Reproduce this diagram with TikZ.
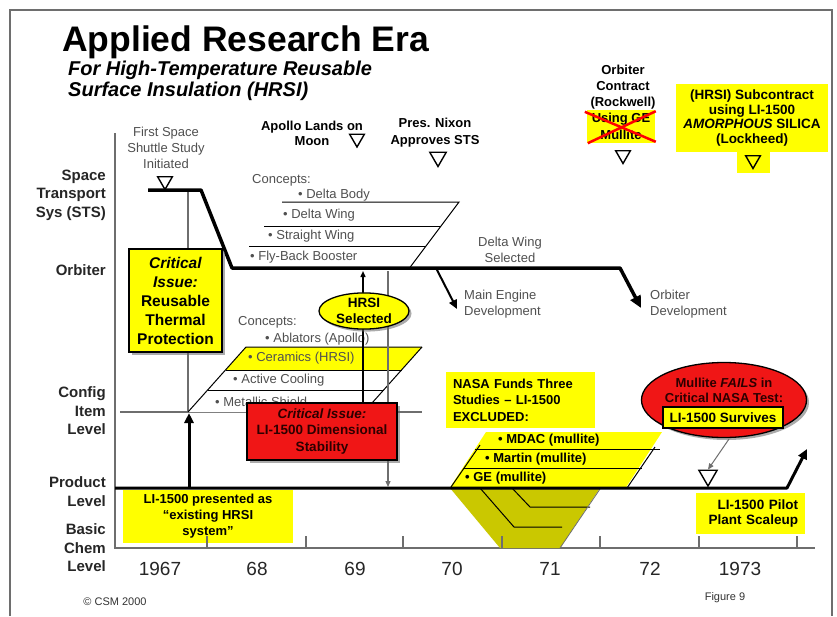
\documentclass[tikz,border=0pt]{standalone}
\usepackage{fontspec}
\setmainfont{Liberation Sans}
\usetikzlibrary{shapes.geometric,arrows.meta,shadows}
\definecolor{yel}{RGB}{255,255,0}
\definecolor{redc}{RGB}{240,22,22}
\definecolor{olv}{RGB}{202,200,0}
\definecolor{gtext}{RGB}{80,80,80}
\definecolor{gline}{RGB}{110,110,110}
\definecolor{rtext}{RGB}{45,0,0}
\newcommand\myfs[2]{\fontsize{#1}{#2}\selectfont}
\tikzset{
  bt/.style={font=\myfs{13}{15.5}\bfseries, align=center, inner sep=0pt},
  gt/.style={font=\myfs{13}{16}, text=gtext, inner sep=0pt},
  gtw/.style={gt, anchor=west},
  bk/.style={font=\myfs{13}{16}\bfseries, inner sep=0pt, anchor=west},
  ax/.style={font=\myfs{15}{18.5}\bfseries, align=right, anchor=east, inner sep=0pt, text=black!85},
  yr/.style={font=\myfs{19}{19}, inner sep=0pt, text=black!85},
  dtri/.style={regular polygon, regular polygon sides=3, shape border rotate=180, draw, line width=1.4pt, minimum size=17pt, inner sep=0pt},
  ybox/.style={fill=yel, inner sep=0pt, font=\myfs{13}{16}\bfseries, align=center},
  shad/.style={drop shadow={shadow xshift=2.5pt, shadow yshift=-2.5pt, opacity=0.55, fill=black!60}},
  gl/.style={draw=gline, line width=1.2pt},
  thinln/.style={line width=1pt},
}
\begin{document}
\begin{tikzpicture}[x=1pt,y=-1pt]
\useasboundingbox (0,0) rectangle (837,616);
\fill[white] (0,0) rectangle (837,616);
% frame
\draw[gline, line width=1.2pt] (10,616) -- (10,10) -- (832,10) -- (832,616);
% title
\node[anchor=base west, inner sep=0pt, font=\myfs{35.5}{35.5}\bfseries] (title) at (62,51.5) {Applied Research Era};
\node[anchor=base west, inner sep=0pt, font=\myfs{20}{20}\bfseries\itshape] (sub1) at (68,75.5) {For High-Temperature Reusable};
\node[anchor=base west, inner sep=0pt, font=\myfs{20}{20}\bfseries\itshape] (sub2) at (68,96) {Surface Insulation (HRSI)};
% axis labels
\node[ax] (lsts) at (106,195) {Space\\Transport\\Sys (STS)};
\node[ax] (lorb) at (106,270) {Orbiter};
\node[ax] (lcfg) at (106,411) {Config\\Item\\Level};
\node[ax] (lprod) at (106,491.5) {Product\\Level};
\node[ax] (lchem) at (106,548) {Basic\\Chem\\Level};
% axes
\coordinate (ax0) at (115,133); \coordinate (ax1) at (115,548); \coordinate (ax2) at (815,548);
\draw[gl] (ax0) -- (ax1) -- (ax2);
\foreach \x/\t in {160/1967, 257/68, 355/69, 452/70, 550/71, 650/72, 740/1973}
  \node[yr] (yr\t) at (\x,569) {\t};
% gray verticals & config line
\coordinate (g1a) at (188,190); \coordinate (g1b) at (188,412);
\draw[gl] (g1a) -- (g1b);
\coordinate (c0) at (120,412); \coordinate (c1) at (422,412);
\draw[gl] (c0) -- (c1);
% top labels
\node[gt, align=center] (first) at (166,148) {First Space\\Shuttle Study\\Initiated};
\node[dtri] (t1) at (165,181) {};
\node[bt] (apollo) at (312,133.5) {Apollo Lands on\\Moon};
\node[dtri] (t2) at (357,138.5) {};
\node[bt, font=\myfs{13}{17}\bfseries] (nixon) at (435,132.5) {Pres. Nixon\\Approves STS};
\node[dtri, minimum size=19pt] (t3) at (438,157) {};
\node[bt, font=\myfs{13}{16}\bfseries] (orbc) at (623,87) {Orbiter\\Contract\\(Rockwell)};
\node[ybox, minimum width=68pt, minimum height=33pt, font=\myfs{13}{17}\bfseries] (usege) at (621,126.5) {Using GE\\Mullite};
\draw[red, line width=2.5pt] (usege.north west) ++(-2,2) -- ++(71,30);
\draw[red, line width=2.5pt] (usege.south west) ++(1,0) -- ++(68,-32);
\node[dtri] (t4) at (623,155) {};
\node[ybox, minimum width=152pt, minimum height=68pt, font=\myfs{13.5}{14.5}\bfseries] (sub) at (752,118) {(HRSI) Subcontract\\using LI-1500\\\textit{AMORPHOUS} SILICA\\(Lockheed)};
\node[fill=yel, minimum width=33pt, minimum height=23pt, inner sep=0pt] (subt) at (753.5,161.5) {};
\node[dtri] (t5) at (753,160) {};
% orbiter level labels
\node[gt, align=center] (dws) at (510,249.5) {Delta Wing\\Selected};
\node[gtw, align=left] (med) at (464,304) {Main Engine\\Development};
\node[gtw, align=left] (odev) at (650,304) {Orbiter\\Development};
% upper concepts
\draw[thinln, fill=white] (282,202) -- (459,202) -- (409.5,268) -- (232.5,268);
\draw[thinln] (264,226) -- (441,226) (249,246) -- (426,246);
\node[gtw] (ucon) at (252,180) {Concepts:};
\node[gtw] (udb) at (298,195) {• Delta Body};
\node[gtw] (udw) at (283,215) {• Delta Wing};
\node[gtw] (usw) at (268,236) {• Straight Wing};
\node[gtw] (ufb) at (250,257) {• Fly-Back Booster};
% timeline
\coordinate (s0) at (148,190); \coordinate (s1) at (201,190); \coordinate (s2) at (232,268);
\coordinate (o1) at (620,268); \coordinate (o2) at (641,308);
\coordinate (me0) at (436,268); \coordinate (me1) at (457,309);
\draw[line width=3.5pt, line join=round, -{Triangle[length=12pt,width=11pt]}] (s0) -- (s1) -- (s2) -- (o1) -- (o2);
\draw[line width=2pt, -{Triangle[length=9pt,width=8pt]}] (me0) -- (me1);
% critical issue box
\node[draw, line width=1.3pt, fill=yel, shad, minimum width=93pt, minimum height=103pt, inner sep=0pt, align=center, font=\myfs{15.5}{19}\bfseries] (crit1) at (175.5,300.5) {\textit{Critical}\\\textit{Issue:}\\Reusable\\Thermal\\Protection};
% lower concepts
\fill[white] (246,347) -- (422,347) -- (364,412) -- (188,412) -- cycle;
\fill[yel] (246,347) -- (422,347) -- (401.5,370) -- (225.5,370) -- cycle;
\draw[thinln] (422,347) -- (246,347) -- (188,412);
\draw[thinln] (422,347) -- (364,412);
\draw[thinln] (225.5,370) -- (401.5,370) (207.7,390) -- (383.7,390);
\node[gtw] (lcon) at (238,322) {Concepts:};
\node[gtw] (lab) at (265,339) {• Ablators (Apollo)};
\node[gtw] (lcer) at (248,358) {• Ceramics (HRSI)};
\node[gtw] (lac) at (233,380) {• Active Cooling};
\node[gtw] (lms) at (215,402) {• Metallic Shield};
% verticals
\coordinate (v1a) at (363,403); \coordinate (v1b) at (363,271);
\draw[line width=1.4pt, -{Triangle[length=6pt,width=5pt]}] (v1a) -- (v1b);
\coordinate (v2a) at (388,271); \coordinate (v2b) at (388,487);
\draw[gl, -{Triangle[length=6pt,width=5pt]}] (v2a) -- (v2b);
% red critical box
\node[draw, line width=1.3pt, fill=redc, shad, minimum width=150pt, minimum height=57pt, inner sep=0pt, align=center, text=rtext, font=\myfs{13.5}{16.5}\bfseries] (crit2) at (322,431.5) {\textit{Critical Issue:}\\LI-1500 Dimensional\\Stability};
% HRSI selected
\node[ellipse, draw, line width=1.3pt, fill=yel, shad, minimum width=90pt, minimum height=36pt, inner sep=0pt, align=center, font=\myfs{13.5}{16}\bfseries] (hsel) at (364,311) {HRSI\\Selected};
% NASA studies
\node[ybox, minimum height=56pt, text width=135pt, inner xsep=7pt, align=left, font=\myfs{13}{16.5}\bfseries] (nasa) at (520.5,400) {NASA Funds Three\\Studies – LI-1500\\EXCLUDED:};
\fill[yel] (486,432) -- (662,432) -- (625.6,488) -- (449.6,488) -- cycle;
\draw[thinln] (475,449) -- (660,449) (463,468) -- (642,468);
\draw[thinln] (480,445) -- (451,487);
\draw[thinln] (655,447) -- (627,488);
\node[bk] (mdac) at (498,440) {• MDAC (mullite)};
\node[bk] (mart) at (485,459) {• Martin (mullite)};
\node[bk] (ge) at (465,478) {• GE (mullite)};
\fill[olv] (450,488) -- (600,488) -- (560,548) -- (500,548) -- cycle;
\draw[thinln] (480,488) -- (514,527) -- (562,527);
\draw[thinln] (512,488) -- (530,507) -- (590,507);
\draw[gline, line width=0.8pt] (600,489) -- (560,548);
% bottom boxes
\node[ybox, minimum width=170pt, minimum height=53pt] (pres) at (208,516.5) {LI-1500 presented as\\“existing HRSI\\system”};
\node[ybox, minimum height=41pt, text width=95pt, inner xsep=7pt, align=right, font=\myfs{13.5}{15.5}\bfseries] (pilot) at (750.5,513.5) {LI-1500 Pilot\\Plant Scaleup};
\foreach \x in {207,306,403,502,600,699,797}
  \draw[gl] (\x,548) -- (\x,536);
% product line
\coordinate (p0) at (115,488); \coordinate (p1) at (787,488); \coordinate (p2) at (807,449);
\draw[line width=3pt, line join=round, -{Triangle[length=10pt,width=9pt]}] (p0) -- (p1) -- (p2);
\coordinate (pa0) at (189,488); \coordinate (pa1) at (189,413);
\draw[line width=3pt, -{Triangle[length=10pt,width=9pt]}] (pa0) -- (pa1);
% mullite fails
\node[ellipse, draw, line width=1.3pt, fill=redc, shad, minimum width=165pt, minimum height=75pt, inner sep=0pt] (fail) at (724,400) {};
\node[bt, text=rtext, font=\myfs{13}{15}\bfseries] (failt) at (724,390) {Mullite \textit{FAILS} in\\Critical NASA Test:};
\node[draw, line width=1.2pt, fill=yel, minimum width=120pt, minimum height=21pt, inner sep=0pt, font=\myfs{13.5}{15}\bfseries] (surv) at (723,417.5) {LI-1500 Survives};
\node[dtri, minimum size=21pt] (t6) at (708,475.5) {};
\coordinate (fa0) at (729,439);
\draw[gline, line width=1pt, -{Triangle[length=6pt,width=5pt]}] (fa0) -- (t6.north);
% footer
\node[font=\myfs{11}{11}, inner sep=0pt, text=black!80] (csm) at (115,602) {© CSM 2000};
\node[font=\myfs{11}{11}, inner sep=0pt, text=black!80] (fig) at (725,598) {Figure 9};
\end{tikzpicture}
\end{document}
